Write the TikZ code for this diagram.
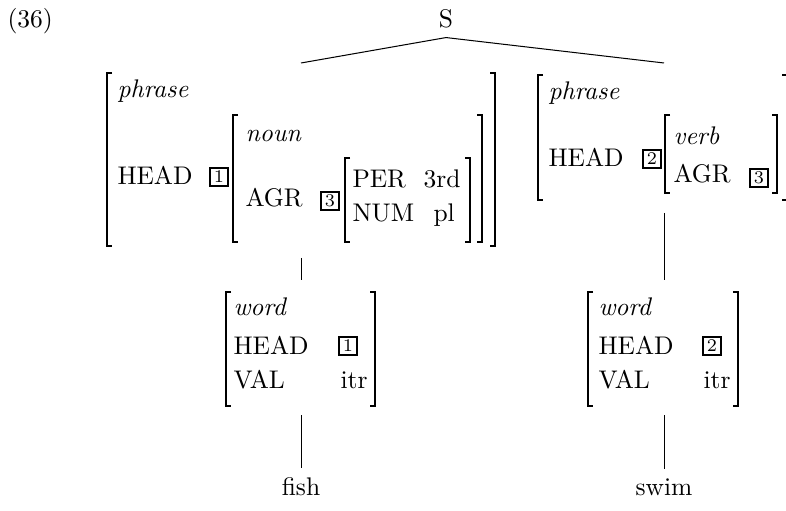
\documentclass[tikz,border=0pt]{standalone}
\usepackage{tikz}

% brackets of the feature structures
\newcommand{\avmL}[3]{\draw[brk] ({#1+5},#2) -- (#1,#2) -- (#1,#3) -- ({#1+5},#3);}
\newcommand{\avmR}[3]{\draw[brk] ({#1-5},#2) -- (#1,#2) -- (#1,#3) -- ({#1-5},#3);}

\tikzset{
	brk/.style={line width=0.5pt},
	lbl/.style={anchor=base west, inner sep=0pt},
	tag/.style={draw, line width=0.5pt, inner sep=0.8pt, minimum size=7pt, font=\scriptsize},
}

\begin{document}
\begin{tikzpicture}[x=0.3922pt,y=-0.3922pt]
		\clip (0,0) rectangle (786,511);
		\node[lbl] (ex) at (7,28) {(36)};
		\node[anchor=base] (s) at (446,28) {S};
		\coordinate (np-top) at (301,63);
		\coordinate (vp-top) at (664,63);
		\draw (s.south) -- (np-top);
		\draw (s.south) -- (vp-top);

		% left phrase
		\avmL{107}{73}{246}
		\avmR{495}{73}{246}
		\node[lbl] (phr1) at (117,98) {\textit{phrase}};
		\node[lbl] (head1) at (117,185) {HEAD};
		\node[tag] (t1a) at (219,177) {1};
		\avmL{233}{115}{242}
		\avmR{482}{115}{242}
		\node[lbl] (noun) at (245,142) {\textit{noun}};
		\node[lbl] (agr1) at (245,207) {AGR};
		\node[tag] (t3a) at (330,201) {3};
		\avmL{345}{158}{242}
		\avmR{470}{158}{242}
		\node[lbl] (per) at (352,188) {PER};
		\node[lbl] (per-v) at (423,188) {3rd};
		\node[lbl] (num) at (352,222) {NUM};
		\node[lbl] (num-v) at (433,222) {pl};

		% right phrase
		\avmL{538}{75}{200}
		\avmR{787}{75}{200}
		\node[lbl] (phr2) at (548,100) {\textit{phrase}};
		\node[lbl] (head2) at (548,167) {HEAD};
		\node[tag] (t2a) at (652,159) {2};
		\avmL{665}{115}{193}
		\avmR{777}{115}{193}
		\node[lbl] (verb) at (673,145) {\textit{verb}};
		\node[lbl] (agr2) at (673,183) {AGR};
		\node[tag] (t3b) at (759,178) {3};

		% words
		\avmL{226}{292}{406}
		\avmR{375}{292}{406}
		\node[lbl] (wd1) at (233,316) {\textit{word}};
		\node[lbl] (wh1) at (233,355) {HEAD};
		\node[lbl] (wv1) at (233,389) {VAL};
		\node[tag] (t1b) at (348,346) {1};
		\node[lbl] (itr1) at (340,389) {itr};
		\avmL{588}{292}{406}
		\avmR{738}{292}{406}
		\node[lbl] (wd2) at (598,316) {\textit{word}};
		\node[lbl] (wh2) at (598,355) {HEAD};
		\node[lbl] (wv2) at (598,389) {VAL};
		\node[tag] (t2b) at (712,346) {2};
		\node[lbl] (itr2) at (703,389) {itr};

		\node[anchor=base] (fish) at (301,495) {fish};
		\node[anchor=base] (swim) at (664,495) {swim};

		\coordinate (np-bot) at (301.3,258);
		\coordinate (w1-top) at (301.3,280);
		\coordinate (w1-bot) at (301.3,415);
		\coordinate (vp-bot) at (664,213);
		\coordinate (w2-top) at (664,280);
		\coordinate (w2-bot) at (664,415);
		\draw (np-bot) -- (w1-top);
		\draw (w1-bot) -- (w1-bot |- fish.north);
		\draw (vp-bot) -- (w2-top);
		\draw (w2-bot) -- (swim.north);
	\end{tikzpicture}
\end{document}
